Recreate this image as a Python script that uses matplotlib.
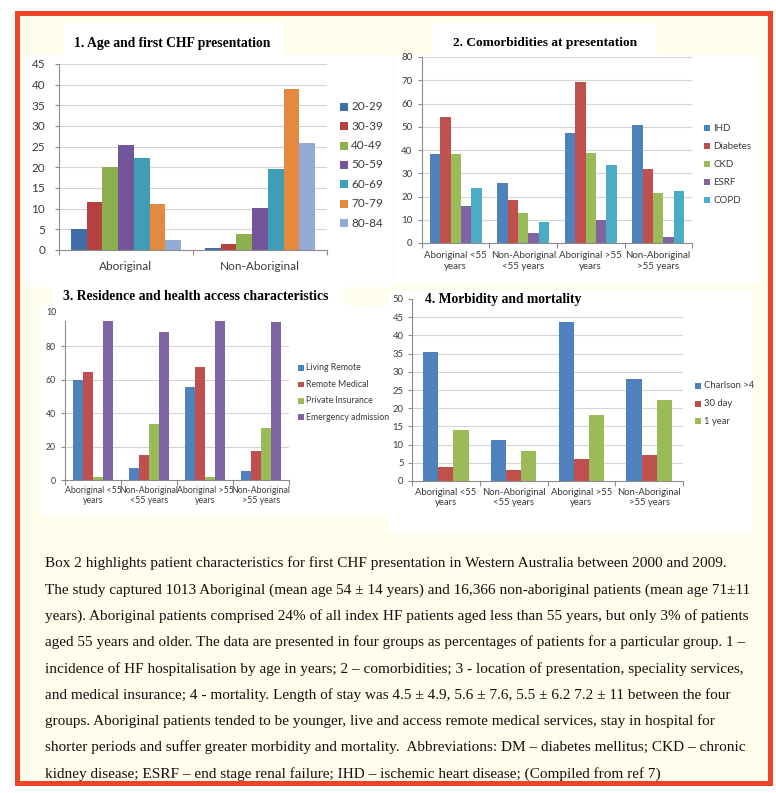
import matplotlib
matplotlib.use('Agg')
import matplotlib.pyplot as plt
from matplotlib.patches import Rectangle
import numpy as np

W, H = 776, 793

# --- data ---
age_groups = ['Aboriginal', 'Non-Aboriginal']
age_bands = ['20-29', '30-39', '40-49', '50-59', '60-69', '70-79', '80-84']
age_aboriginal = [5.1, 11.6, 20.2, 25.3, 22.3, 11.2, 2.5]
age_non_aboriginal = [0.5, 1.4, 3.8, 10.1, 19.5, 38.9, 25.8]

groups = ['Aboriginal <55\nyears', 'Non-Aboriginal\n<55 years',
          'Aboriginal >55\nyears', 'Non-Aboriginal\n>55 years']

comorbidities = ['IHD', 'Diabetes', 'CKD', 'ESRF', 'COPD']
ihd = [38.1, 25.9, 47.5, 50.6]
diabetes = [54.4, 18.3, 69.1, 31.9]
ckd = [38.1, 12.7, 38.8, 21.4]
esrf = [16.0, 4.2, 9.8, 2.4]
copd = [23.7, 9.2, 33.7, 22.2]

access = ['Living Remote', 'Remote Medical', 'Private Insurance', 'Emergency admission']
living_remote = [59.5, 6.9, 55.6, 5.4]
remote_medical = [64.7, 14.7, 67.7, 17.3]
private_insurance = [1.6, 33.5, 1.6, 31.2]
emergency_admission = [96.0, 88.3, 96.0, 94.4]

outcomes = ['Charlson >4', '30 day', '1 year']
charlson = [35.5, 11.4, 43.6, 28.1]
day30 = [3.8, 3.0, 5.95, 7.05]
year1 = [14.0, 8.3, 18.1, 22.25]

caption = [
    "Box 2 highlights patient characteristics for first CHF presentation in Western Australia between 2000 and 2009.",
    "The study captured 1013 Aboriginal (mean age 54 \u00b1 14 years) and 16,366 non-aboriginal patients (mean age 71\u00b111",
    "years). Aboriginal patients comprised 24% of all index HF patients aged less than 55 years, but only 3% of patients",
    "aged 55 years and older. The data are presented in four groups as percentages of patients for a particular group. 1 \u2013",
    "incidence of HF hospitalisation by age in years; 2 \u2013 comorbidities; 3 - location of presentation, speciality services,",
    "and medical insurance; 4 - mortality. Length of stay was 4.5 \u00b1 4.9, 5.6 \u00b1 7.6, 5.5 \u00b1 6.2 7.2 \u00b1 11 between the four",
    "groups. Aboriginal patients tended to be younger, live and access remote medical services, stay in hospital for",
    "shorter periods and suffer greater morbidity and mortality.  Abbreviations: DM \u2013 diabetes mellitus; CKD \u2013 chronic",
    "kidney disease; ESRF \u2013 end stage renal failure; IHD \u2013 ischemic heart disease; (Compiled from ref 7)",
]

BLUE, RED, GREEN, PURPLE, AQUA = '#4F81BD', '#C0504D', '#9BBB59', '#8064A2', '#4BACC6'
# panel 1 was exported with slightly deeper shades
AGE_COLORS = ['#3F6EA6', '#B5403D', '#8DB04E', '#72559A', '#3F9DB8', '#E38A3F', '#93ABD6']
CREAM = '#FFFDEC'
GRID = '#D5D5D5'
AXC = '#8C8C8C'
TXT = '#3A3A3A'
SANS = 'Lato'
SERIF = 'Liberation Serif'


def box(x0, y0, x1, y1):
    return [x0 / W, 1 - y1 / H, (x1 - x0) / W, (y1 - y0) / H]


def white(fig, x0, y0, x1, y1, fc='white'):
    fig.patches.append(Rectangle((x0 / W, 1 - y1 / H), (x1 - x0) / W, (y1 - y0) / H,
                                 transform=fig.transFigure, facecolor=fc,
                                 edgecolor='none', zorder=-1))


def grouped_bars(ax, series, colors, width):
    n = len(series)
    x = np.arange(len(series[0]))
    for i, (vals, c) in enumerate(zip(series, colors)):
        ax.bar(x + (i - (n - 1) / 2) * width, vals, width, color=c, edgecolor='none', zorder=2)


def style(ax, ncat, ymax, step, fs, labels, ypad, xpad, grid_top=None):
    ax.set_facecolor('none')
    ax.set_xlim(-0.5, ncat - 0.5)
    ax.set_ylim(0, ymax)
    ticks = np.arange(0, ymax + 0.01, step)
    ax.set_yticks(ticks)
    top = ymax if grid_top is None else grid_top
    for t in ticks:
        if 0 < t <= top:
            ax.axhline(t, color=GRID, lw=0.8, zorder=1)
    for s in ['top', 'right']:
        ax.spines[s].set_visible(False)
    for s in ['left', 'bottom']:
        ax.spines[s].set_color(AXC)
        ax.spines[s].set_linewidth(0.8)
    ax.tick_params(axis='y', length=3, width=0.8, color=AXC, labelsize=fs,
                   labelcolor=TXT, pad=ypad)
    ax.set_xticks(range(ncat))
    ax.set_xticklabels(labels, fontsize=fs, color=TXT, fontfamily=SANS)
    ax.tick_params(axis='x', which='major', length=0, pad=xpad)
    ax.set_xticks(np.arange(-0.5, ncat), minor=True)
    ax.tick_params(axis='x', which='minor', length=3.5, width=0.8, color=AXC)
    for t in ax.get_yticklabels():
        t.set_fontfamily(SANS)


def legend_px(fig, x, y0, dy, labels, colors, fs, sq):
    for i, (lab, c) in enumerate(zip(labels, colors)):
        y = y0 + i * dy
        fig.patches.append(Rectangle((x / W, 1 - (y + sq / 2) / H), sq / W, sq / H,
                                     transform=fig.transFigure, facecolor=c,
                                     edgecolor='none', zorder=3))
        fig.text((x + sq + 3) / W, 1 - y / H, lab, fontsize=fs, family=SANS,
                 color=TXT, va='center', ha='left')


fig = plt.figure(figsize=(W / 100, H / 100), dpi=100)
fig.patch.set_facecolor('white')

# outer framed box
fig.patches.append(Rectangle((16.5 / W, 1 - 782.5 / H), 753 / W, 770 / H,
                             transform=fig.transFigure, facecolor=CREAM,
                             edgecolor='#EE4324', lw=3.6, zorder=-2))

# white panel backgrounds
white(fig, 26, 55, 392, 287)
white(fig, 63, 22, 283, 55)
white(fig, 394, 55, 758, 283)
white(fig, 433, 22, 657, 55)
white(fig, 52, 284, 345, 306)
white(fig, 40, 306, 388, 516)
white(fig, 388, 290, 752, 533)

# --- panel 1 ---
ax1 = fig.add_axes(box(59, 64, 327, 250))
grouped_bars(ax1, [[a, b] for a, b in zip(age_aboriginal, age_non_aboriginal)],
             AGE_COLORS, 0.117)
style(ax1, 2, 45, 5, 8.5, age_groups, 7, 8)
fig.text(172.5 / W, 1 - 47 / H, '1. Age and first CHF presentation', fontsize=9.8,
         family=SERIF, weight='bold', ha='center', va='baseline')
legend_px(fig, 340, 106.7, 19.4, age_bands, AGE_COLORS, 8.5, 8)

# --- panel 2 ---
ax2 = fig.add_axes(box(422, 57, 692, 243))
grouped_bars(ax2, [ihd, diabetes, ckd, esrf, copd],
             [BLUE, RED, GREEN, PURPLE, AQUA], 0.153)
style(ax2, 4, 80, 10, 7, groups, 4, 6)
fig.text(545 / W, 1 - 46 / H, '2. Comorbidities at presentation', fontsize=9.6,
         family=SERIF, weight='bold', ha='center', va='baseline')
legend_px(fig, 704, 128.3, 18, comorbidities, [BLUE, RED, GREEN, PURPLE, AQUA], 7, 6)

# --- panel 3 ---
ax3 = fig.add_axes(box(65, 321, 289, 480))
grouped_bars(ax3, [living_remote, remote_medical, private_insurance, emergency_admission],
             [BLUE, RED, GREEN, PURPLE], 0.18)
style(ax3, 4, 95, 20, 6.3, groups, 3.5, 4)
ax3.set_yticks([0, 20, 40, 60, 80])
# top tick label sits above the cropped plot area
ax3.text(-0.037, 100, '10', transform=ax3.get_yaxis_transform(), fontsize=6.3,
         family=SANS, color=TXT, ha='right', va='center', clip_on=False)
fig.text(63.3 / W, 1 - 300 / H, '3. Residence and health access characteristics',
         fontsize=9.8, family=SERIF, weight='bold', ha='left', va='baseline')
legend_px(fig, 298, 368, 16.4, access, [BLUE, RED, GREEN, PURPLE], 6.3, 5.5)

# --- panel 4 ---
ax4 = fig.add_axes(box(412, 299, 683, 481))
grouped_bars(ax4, [charlson, day30, year1], [BLUE, RED, GREEN], 0.225)
style(ax4, 4, 50, 5, 6.8, groups, 3, 5, grid_top=45)
fig.text(425 / W, 1 - 302.7 / H, '4. Morbidity and mortality', fontsize=9.8,
         family=SERIF, weight='bold', ha='left', va='baseline')
legend_px(fig, 695, 386, 17.5, outcomes, [BLUE, RED, GREEN], 6.8, 6)

# --- caption ---
for i, line in enumerate(caption):
    fig.text(45 / W, 1 - (567.3 + 26.3 * i) / H, line, fontsize=11.0, family=SERIF,
             color='#111111', ha='left', va='baseline')

fig.savefig('out.png', dpi=100)
